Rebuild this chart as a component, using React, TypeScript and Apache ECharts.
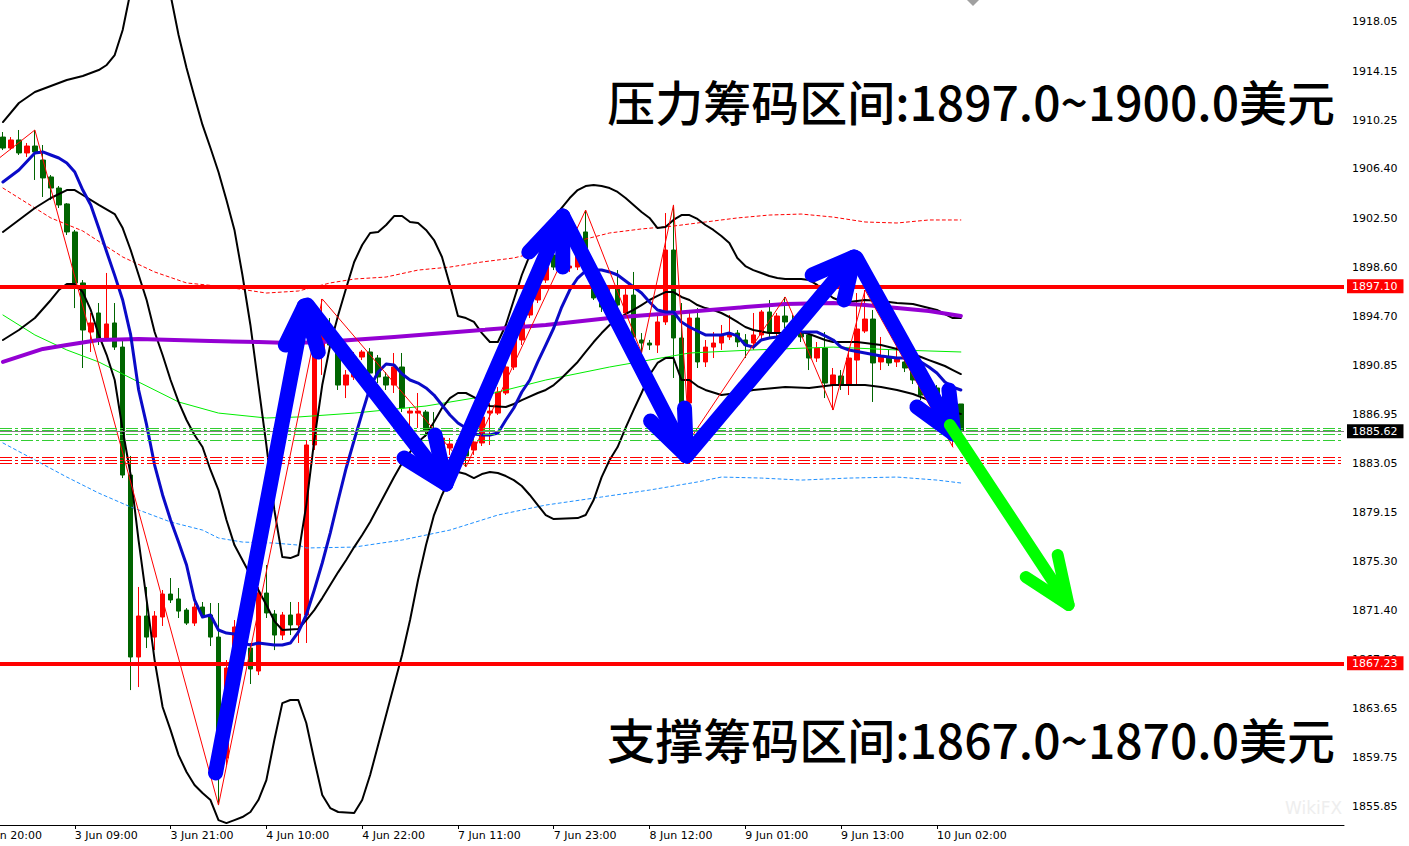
import React, { useEffect, useRef } from 'react';
import * as echarts from 'echarts';

// ---------- axes ----------
const LEAD = 3; // hidden bars before the first visible one (2 Jun 20:00 .. 22:00)
const TOTAL = 172; // bar slots across the plot (incl. chart shift)
const TICK_LABELS = ['2 Jun 20:00', '3 Jun 09:00', '3 Jun 21:00', '4 Jun 10:00', '4 Jun 22:00', '7 Jun 11:00', '7 Jun 23:00', '8 Jun 12:00', '9 Jun 01:00', '9 Jun 13:00', '10 Jun 02:00'];
const PRICE_TICKS = [1918.05, 1914.15, 1910.25, 1906.40, 1902.50, 1898.60, 1894.70, 1890.85, 1886.95, 1883.05, 1879.15, 1875.30, 1871.40, 1867.50, 1863.65, 1859.75, 1855.85];
const Y_MIN = 1854.42;
const Y_MAX = 1919.79;

// ---------- candles (H1) ----------
const OPEN = [1908.93, 1908.06, 1908.70, 1907.67, 1908.22, 1907.11, 1905.77, 1904.89, 1903.63, 1901.41, 1897.37, 1893.48, 1894.99, 1893.01, 1894.20, 1892.29, 1882.15, 1867.73, 1870.98, 1869.31, 1870.90, 1872.72, 1872.33, 1871.45, 1870.42, 1871.69, 1871.06, 1869.31, 1859.73, 1866.86, 1870.11, 1868.44, 1866.62, 1872.80, 1871.14, 1869.47, 1871.06, 1870.27, 1871.06, 1884.53, 1891.66, 1893.48, 1892.06, 1889.28, 1889.92, 1891.50, 1891.90, 1891.42, 1889.92, 1889.28, 1890.71, 1887.06, 1887.06, 1887.14, 1885.72, 1884.29, 1884.29, 1884.13, 1884.29, 1884.13, 1884.69, 1887.06, 1887.06, 1888.65, 1890.71, 1892.85, 1894.83, 1896.02, 1897.60, 1899.58, 1898.63, 1898.55, 1898.63, 1901.41, 1898.00, 1896.18, 1895.62, 1897.05, 1894.99, 1896.41, 1892.85, 1892.61, 1892.45, 1894.28, 1899.98, 1893.01, 1887.86, 1894.59, 1891.11, 1892.29, 1892.61, 1893.09, 1893.40, 1892.85, 1892.61, 1893.25, 1895.07, 1893.48, 1894.75, 1894.28, 1893.40, 1893.25, 1891.42, 1892.21, 1889.28, 1890.00, 1889.28, 1891.26, 1893.56, 1894.51, 1891.11, 1891.42, 1891.11, 1891.11, 1890.63, 1889.28, 1888.89, 1889.05, 1888.57, 1887.78, 1887.78];
const CLOSE = [1908.06, 1908.70, 1907.67, 1908.22, 1907.75, 1905.69, 1904.89, 1903.55, 1901.41, 1897.37, 1893.64, 1894.20, 1892.85, 1894.12, 1892.29, 1882.15, 1867.73, 1870.98, 1869.31, 1870.98, 1872.72, 1872.25, 1871.37, 1870.42, 1871.69, 1871.06, 1869.31, 1859.73, 1866.86, 1870.11, 1868.44, 1866.78, 1872.80, 1871.22, 1869.47, 1871.06, 1870.27, 1871.14, 1884.53, 1891.82, 1893.48, 1892.45, 1889.28, 1890.08, 1891.50, 1891.90, 1890.23, 1889.92, 1889.28, 1890.71, 1887.46, 1887.22, 1887.22, 1885.72, 1884.69, 1885.08, 1884.61, 1884.61, 1883.66, 1884.77, 1886.75, 1887.22, 1888.73, 1890.71, 1892.85, 1894.83, 1896.02, 1897.60, 1898.63, 1898.63, 1899.58, 1898.71, 1900.22, 1898.39, 1896.18, 1895.46, 1896.02, 1895.62, 1896.41, 1893.09, 1892.61, 1892.45, 1894.28, 1899.98, 1893.01, 1887.86, 1894.59, 1891.11, 1892.29, 1892.61, 1893.25, 1893.40, 1892.69, 1892.45, 1893.25, 1895.07, 1893.40, 1894.75, 1894.28, 1893.40, 1893.09, 1891.42, 1892.21, 1889.44, 1890.08, 1889.28, 1891.42, 1893.72, 1894.51, 1891.03, 1891.50, 1891.03, 1891.42, 1890.63, 1889.68, 1888.49, 1888.57, 1888.57, 1887.94, 1888.09, 1885.62];
const LOW = [1907.90, 1907.90, 1907.51, 1907.35, 1905.53, 1904.18, 1903.94, 1903.31, 1901.17, 1895.38, 1890.63, 1891.90, 1892.45, 1892.85, 1892.06, 1881.91, 1865.11, 1865.35, 1868.44, 1868.28, 1870.19, 1872.01, 1870.82, 1870.27, 1870.19, 1870.82, 1868.60, 1856.00, 1859.17, 1866.54, 1867.89, 1865.59, 1866.30, 1870.82, 1868.28, 1869.08, 1869.47, 1868.84, 1868.84, 1884.13, 1890.08, 1892.06, 1888.89, 1888.25, 1889.68, 1891.26, 1889.68, 1889.44, 1888.89, 1888.65, 1887.14, 1885.95, 1885.88, 1885.16, 1884.45, 1883.97, 1883.74, 1883.50, 1882.79, 1883.74, 1884.45, 1884.53, 1886.91, 1888.49, 1890.47, 1892.45, 1894.59, 1895.78, 1897.37, 1898.39, 1898.39, 1898.24, 1898.39, 1898.24, 1896.02, 1895.07, 1895.38, 1895.23, 1894.67, 1892.85, 1891.82, 1892.06, 1891.82, 1894.04, 1889.84, 1887.46, 1884.92, 1890.63, 1890.71, 1891.42, 1892.06, 1892.85, 1892.29, 1891.42, 1892.06, 1892.85, 1893.09, 1891.26, 1893.80, 1893.01, 1892.69, 1890.47, 1891.11, 1888.25, 1887.30, 1888.89, 1888.49, 1889.28, 1893.40, 1887.94, 1890.47, 1890.79, 1890.71, 1890.31, 1889.36, 1888.09, 1888.25, 1888.25, 1887.62, 1884.37, 1885.55];
const HIGH = [1909.33, 1908.93, 1909.49, 1908.46, 1909.49, 1908.30, 1905.92, 1905.05, 1903.70, 1901.57, 1897.60, 1894.99, 1895.78, 1898.16, 1895.78, 1892.85, 1883.66, 1873.28, 1873.28, 1871.37, 1873.04, 1873.99, 1873.20, 1871.61, 1872.01, 1872.09, 1872.01, 1872.01, 1867.49, 1870.66, 1871.06, 1868.84, 1873.28, 1875.02, 1871.45, 1871.30, 1872.09, 1872.09, 1884.92, 1892.45, 1896.10, 1894.59, 1892.45, 1890.47, 1891.90, 1892.06, 1892.21, 1891.66, 1890.31, 1891.82, 1891.82, 1887.54, 1888.65, 1887.30, 1887.14, 1885.56, 1885.08, 1884.92, 1884.45, 1885.08, 1886.91, 1887.86, 1889.12, 1891.50, 1893.25, 1895.23, 1896.41, 1898.00, 1899.74, 1900.14, 1899.98, 1899.43, 1901.33, 1903.15, 1898.55, 1896.81, 1897.21, 1898.39, 1897.21, 1898.24, 1893.40, 1892.85, 1894.83, 1902.91, 1903.55, 1895.78, 1895.23, 1895.38, 1892.85, 1893.48, 1894.04, 1894.83, 1893.64, 1893.32, 1894.99, 1895.23, 1896.02, 1894.99, 1896.26, 1894.83, 1894.20, 1893.48, 1892.69, 1893.48, 1890.63, 1890.47, 1892.21, 1896.57, 1896.81, 1895.23, 1893.09, 1892.06, 1892.29, 1891.82, 1891.11, 1889.68, 1889.20, 1889.28, 1888.89, 1888.49, 1887.78];

// ---------- indicators: [bar, price] ----------
const BB_UPPER = [[0, 1910.12], [2, 1911.63], [4, 1912.50], [6, 1912.98], [8, 1913.45], [10, 1913.77], [12, 1914.24], [13, 1914.64], [14, 1915.43], [15, 1917.41], [16, 1920.5], [18, 1923.5], [20, 1922.5], [21, 1920.18], [22, 1917.02], [23, 1914.40], [24, 1912.10], [25, 1909.89], [26, 1908.06], [27, 1906.16], [28, 1903.94], [29, 1901.57], [30, 1898.00], [31, 1894.04], [32, 1889.28], [33, 1884.53], [34, 1879.38], [35, 1875.65], [36, 1875.57], [37, 1875.81], [38, 1879.77], [39, 1884.92], [40, 1889.28], [41, 1892.45], [42, 1894.83], [43, 1896.97], [44, 1899.03], [45, 1900.38], [46, 1901.33], [47, 1901.41], [48, 1901.96], [49, 1902.67], [50, 1902.67], [51, 1902.20], [52, 1902.12], [53, 1901.57], [54, 1900.77], [55, 1899.43], [56, 1897.21], [57, 1894.75], [58, 1894.59], [59, 1894.28], [60, 1893.40], [61, 1892.69], [62, 1892.69], [63, 1894.04], [64, 1896.02], [65, 1898.00], [66, 1899.58], [67, 1900.77], [68, 1901.72], [69, 1902.52], [70, 1903.31], [71, 1904.10], [72, 1904.73], [73, 1905.05], [74, 1905.13], [75, 1905.05], [76, 1904.89], [77, 1904.58], [78, 1904.10], [79, 1903.55], [80, 1902.99], [81, 1902.52], [82, 1901.72], [83, 1901.80], [84, 1902.36], [85, 1902.75], [86, 1902.75], [87, 1902.44], [88, 1901.96], [89, 1901.57], [90, 1901.09], [91, 1900.54], [92, 1899.35], [93, 1898.71], [94, 1898.39], [95, 1898.16], [96, 1897.92], [97, 1897.76], [98, 1897.68], [100, 1897.68], [101, 1897.60], [102, 1897.21], [103, 1896.65], [104, 1896.18], [105, 1895.94], [106, 1895.86], [108, 1896.02], [110, 1895.94], [112, 1895.78], [114, 1895.70], [115, 1895.54], [116, 1895.38], [117, 1895.23], [118, 1894.91], [119, 1894.59], [120, 1894.59]];
const BB_MID = [[0, 1901.41], [2, 1902.36], [4, 1903.31], [6, 1904.10], [8, 1904.73], [9, 1904.73], [10, 1904.34], [12, 1903.55], [14, 1902.83], [15, 1901.72], [16, 1899.98], [17, 1898.00], [18, 1896.02], [19, 1893.48], [20, 1891.66], [21, 1889.68], [22, 1887.94], [23, 1886.51], [24, 1885.32], [25, 1884.37], [26, 1882.55], [27, 1880.96], [28, 1878.59], [29, 1876.60], [30, 1875.42], [31, 1874.23], [32, 1873.04], [33, 1871.85], [34, 1870.58], [35, 1869.87], [37, 1869.95], [38, 1870.66], [39, 1871.45], [40, 1872.40], [41, 1873.43], [42, 1874.46], [43, 1875.42], [44, 1876.44], [45, 1877.40], [46, 1878.43], [47, 1879.62], [48, 1880.80], [49, 1881.99], [50, 1883.10], [51, 1883.97], [52, 1884.77], [53, 1885.32], [54, 1886.35], [55, 1887.46], [56, 1888.25], [57, 1888.65], [58, 1888.65], [59, 1888.33], [60, 1887.94], [61, 1887.62], [63, 1887.54], [64, 1887.78], [65, 1888.09], [67, 1888.65], [68, 1888.89], [69, 1889.28], [70, 1889.84], [71, 1890.47], [72, 1891.11], [73, 1891.90], [74, 1892.69], [75, 1893.40], [76, 1894.04], [77, 1894.51], [78, 1894.91], [79, 1895.23], [80, 1895.62], [81, 1896.02], [82, 1896.34], [83, 1896.65], [84, 1896.65], [85, 1896.26], [86, 1896.02], [87, 1895.62], [88, 1895.38], [89, 1895.23], [90, 1894.99], [91, 1894.67], [92, 1894.28], [93, 1893.88], [94, 1893.64], [96, 1893.40], [98, 1893.40], [100, 1893.48], [101, 1893.32], [102, 1893.09], [103, 1892.85], [104, 1892.69], [107, 1892.69], [108, 1892.61], [110, 1892.45], [112, 1892.13], [113, 1891.98], [114, 1891.74], [115, 1891.50], [116, 1891.26], [117, 1891.03], [118, 1890.79], [119, 1890.47], [120, 1890.15]];
const BB_LOWER = [[0, 1892.85], [2, 1893.64], [4, 1894.59], [6, 1896.02], [7, 1896.81], [8, 1897.29], [9, 1897.29], [10, 1896.65], [11, 1895.23], [12, 1893.25], [13, 1891.66], [14, 1889.68], [15, 1885.72], [16, 1882.15], [17, 1876.94], [18, 1872.25], [19, 1867.49], [20, 1863.77], [21, 1861.94], [22, 1859.96], [23, 1858.62], [24, 1857.59], [25, 1856.95], [26, 1856.40], [27, 1854.81], [28, 1854.57], [29, 1854.81], [30, 1855.05], [31, 1855.45], [32, 1856.40], [33, 1857.98], [34, 1861.15], [35, 1864.08], [36, 1864.32], [37, 1864.32], [38, 1862.50], [39, 1859.57], [40, 1856.79], [41, 1855.76], [42, 1855.45], [44, 1855.37], [45, 1856.40], [46, 1858.38], [47, 1860.76], [48, 1863.13], [49, 1865.51], [50, 1867.89], [51, 1870.66], [52, 1873.83], [53, 1876.60], [54, 1878.98], [55, 1880.57], [56, 1881.91], [57, 1882.39], [58, 1882.23], [59, 1881.91], [60, 1882.23], [61, 1882.39], [62, 1882.31], [63, 1882.07], [64, 1881.75], [65, 1881.28], [66, 1880.57], [67, 1879.77], [68, 1878.98], [69, 1878.66], [72, 1878.74], [73, 1878.98], [74, 1880.17], [75, 1881.99], [76, 1883.34], [77, 1884.37], [78, 1885.88], [79, 1887.30], [80, 1888.65], [81, 1890.08], [82, 1891.03], [83, 1891.42], [84, 1891.42], [85, 1889.68], [86, 1889.68], [87, 1889.20], [88, 1888.89], [90, 1888.49], [92, 1888.65], [94, 1888.89], [98, 1889.12], [101, 1889.05], [103, 1889.20], [104, 1889.28], [108, 1889.28], [110, 1889.12], [112, 1888.89], [114, 1888.57], [116, 1888.09], [118, 1887.46], [119, 1887.14], [120, 1886.99]];
const MA_BLUE = [[0, 1905.37], [2, 1906.32], [4, 1907.67], [5, 1907.75], [6, 1907.51], [7, 1907.27], [8, 1906.87], [9, 1906.16], [10, 1904.73], [11, 1903.55], [12, 1901.72], [13, 1899.82], [14, 1897.97], [15, 1896.02], [16, 1893.25], [17, 1888.89], [18, 1886.12], [19, 1882.94], [20, 1880.57], [21, 1878.59], [22, 1876.84], [23, 1875.02], [24, 1872.25], [25, 1870.90], [26, 1871.06], [27, 1869.87], [28, 1869.63], [29, 1869.55], [30, 1868.84], [31, 1868.68], [32, 1868.84], [33, 1868.76], [34, 1868.68], [35, 1868.68], [36, 1868.84], [37, 1869.71], [38, 1871.06], [39, 1873.04], [40, 1875.18], [41, 1877.55], [42, 1880.17], [43, 1882.71], [44, 1884.92], [45, 1887.06], [46, 1889.12], [47, 1890.31], [48, 1890.95], [49, 1890.87], [50, 1890.15], [51, 1889.68], [52, 1889.44], [53, 1889.05], [54, 1888.49], [55, 1887.70], [56, 1886.91], [57, 1886.27], [58, 1885.88], [59, 1885.40], [60, 1885.32], [61, 1885.32], [62, 1885.48], [63, 1886.51], [64, 1887.46], [65, 1888.73], [66, 1889.68], [67, 1891.11], [68, 1892.45], [69, 1893.80], [70, 1895.46], [71, 1896.81], [72, 1897.76], [73, 1898.32], [74, 1898.39], [75, 1898.39], [76, 1898.24], [77, 1898.00], [78, 1897.52], [79, 1897.05], [80, 1896.57], [81, 1895.86], [82, 1895.23], [83, 1895.07], [84, 1895.07], [85, 1894.27], [86, 1893.88], [87, 1893.56], [88, 1893.25], [90, 1893.25], [91, 1893.40], [92, 1893.17], [93, 1892.45], [94, 1892.29], [95, 1892.85], [96, 1893.01], [97, 1893.09], [98, 1893.40], [99, 1893.48], [102, 1893.48], [103, 1893.17], [104, 1892.85], [105, 1892.29], [106, 1892.06], [108, 1891.82], [110, 1891.58], [112, 1891.42], [114, 1891.42], [115, 1891.11], [116, 1890.71], [117, 1890.23], [118, 1889.52], [119, 1889.12], [120, 1888.89]];
const MA_PURPLE = [[0, 1891.11], [5, 1892.14], [8, 1892.45], [12, 1892.85], [17, 1892.93], [26, 1892.77], [32, 1892.69], [36, 1892.61], [40, 1892.69], [49, 1893.09], [60, 1893.64], [68, 1894.04], [76, 1894.59], [84, 1894.99], [93, 1895.46], [98, 1895.70], [104, 1895.78], [108, 1895.62], [112, 1895.38], [116, 1895.15], [120, 1894.75]];
const MA_GREEN = [[0, 1894.83], [4, 1893.25], [8, 1892.06], [12, 1891.11], [17, 1889.52], [22, 1887.94], [27, 1887.06], [33, 1886.67], [37, 1886.75], [44, 1887.06], [53, 1887.62], [59, 1888.25], [68, 1889.68], [76, 1890.71], [86, 1891.82], [94, 1892.06], [104, 1892.29], [112, 1892.06], [120, 1891.90]];
const ENV_UPPER = [[0, 1904.89], [2, 1904.10], [6, 1902.52], [10, 1901.49], [15, 1899.43], [19, 1898.24], [23, 1897.37], [28, 1897.05], [33, 1896.57], [37, 1896.73], [41, 1897.37], [44, 1897.68], [48, 1897.84], [52, 1898.39], [56, 1898.63], [60, 1899.03], [64, 1899.35], [68, 1899.98], [72, 1900.69], [76, 1901.33], [80, 1901.65], [84, 1901.88], [88, 1902.20], [92, 1902.52], [96, 1902.75], [100, 1902.83], [104, 1902.59], [108, 1902.20], [112, 1902.12], [116, 1902.36], [120, 1902.36]];
const ENV_LOWER = [[0, 1884.69], [4, 1883.34], [8, 1881.99], [12, 1880.72], [16, 1879.62], [21, 1878.43], [25, 1877.79], [27, 1877.16], [30, 1876.84], [34, 1876.76], [37, 1876.60], [38, 1876.37], [44, 1876.44], [50, 1877.00], [56, 1877.79], [62, 1878.98], [68, 1879.77], [75, 1880.41], [81, 1880.96], [87, 1881.60], [90, 1881.99], [95, 1881.91], [100, 1881.75], [106, 1881.91], [112, 1881.99], [117, 1881.75], [120, 1881.52]];
const ZIGZAG = [[-3, 1906.00], [4, 1909.49], [27, 1856.00], [40, 1896.10], [58, 1882.79], [73, 1903.15], [80, 1891.82], [84, 1903.55], [86, 1884.92], [98, 1896.26], [104, 1887.30], [108, 1896.81], [119, 1884.37]];

// ---------- levels ----------
const RESISTANCE = 1897.10;
const SUPPORT = 1867.23;
const LAST_PRICE = 1885.62;
const GREEN_ORDERS = [1885.84, 1885.68, 1885.36, 1884.92];
const RED_ORDERS = [1883.52, 1883.31, 1883.08];

// ---------- hand-drawn arrows: [bar, price] ----------
const BLUE_ARROWS = [
  { tail: [26.63, 1858.54], tip: [37.75, 1895.54], arms: [[35.38, 1892.45], [39.5, 1891.90]] },
  { tail: [38.13, 1895.62], tip: [55.5, 1881.44], arms: [[50.25, 1883.50], [54.13, 1885.32]] },
  { tail: [55.5, 1881.44], tip: [70.13, 1902.67], arms: [[65.88, 1899.82], [70.13, 1898.63]] },
  { tail: [70.13, 1902.67], tip: [85.63, 1883.66], arms: [[81.13, 1886.43], [85.38, 1887.46]] },
  { tail: [85.63, 1883.66], tip: [106.63, 1899.43], arms: [[101.38, 1898.00], [105.38, 1896.02]] },
  { tail: [106.88, 1899.35], tip: [119.13, 1885.40], arms: [[114.5, 1887.54], [118.5, 1888.89]] },
];
const GREEN_ARROW = { tail: [118.63, 1886.12], tip: [133.5, 1871.85], arms: [[128.13, 1874.07], [132.13, 1875.81]] };

const TEXT_TOP = '压力筹码区间:1897.0~1900.0美元';
const TEXT_BOTTOM = '支撑筹码区间:1867.0~1870.0美元';
const WATERMARK = 'WikiFX';

const FONT = 'DejaVu Sans';

function buildOption() {
  const categories = Array.from({ length: TOTAL }, (_, j) =>
    j % 12 === 0 && j / 12 < TICK_LABELS.length ? TICK_LABELS[j / 12] : ''
  );
  const showTick = (i: number) => i % 12 === 0 && i / 12 < TICK_LABELS.length;

  const candles = OPEN.map((o, i) => [i + LEAD, o, CLOSE[i], LOW[i], HIGH[i]]);
  const shift = (pts: number[][]) => pts.map(([k, p]) => [k + LEAD, p]);

  const line = (pts: number[][], color: string, width: number, type: any = 'solid', z = 3) => ({
    type: 'line',
    xAxisIndex: 1,
    yAxisIndex: 0,
    data: shift(pts),
    symbol: 'none',
    showSymbol: false,
    silent: true,
    z,
    lineStyle: { color, width, type, cap: 'round', join: 'round' },
  });

  const arrowSeries = (a: any, color: string, width: number) => [
    line([a.tail, a.tip], color, width, 'solid', 6),
    line([a.arms[0], a.tip, a.arms[1]], color, width, 'solid', 6),
  ];

  const priceLabel = (text: string, bg: string) => ({
    show: true,
    position: 'end',
    formatter: text,
    color: '#ffffff',
    backgroundColor: bg,
    padding: [2, 6, 1, 5],
    fontSize: 11,
    fontFamily: FONT,
    distance: 3,
  });

  const dashDot = [12, 3, 3, 3];
  const markData: any[] = [
    ...GREEN_ORDERS.map((v) => ({ yAxis: v, lineStyle: { color: '#32CD32', width: 1, type: dashDot }, label: { show: false } })),
    ...RED_ORDERS.map((v) => ({ yAxis: v, lineStyle: { color: '#FF0000', width: 1, type: dashDot }, label: { show: false } })),
    { yAxis: LAST_PRICE, lineStyle: { color: '#808080', width: 1, type: 'solid' }, label: priceLabel(LAST_PRICE.toFixed(2), '#000000') },
    { yAxis: RESISTANCE, lineStyle: { color: '#FF0000', width: 4, type: 'solid' }, label: priceLabel(RESISTANCE.toFixed(2), '#FF0000') },
    { yAxis: SUPPORT, lineStyle: { color: '#FF0000', width: 4, type: 'solid' }, label: priceLabel(SUPPORT.toFixed(2), '#FF0000') },
  ];

  const series: any[] = [
    {
      type: 'candlestick',
      xAxisIndex: 0,
      yAxisIndex: 0,
      data: candles,
      encode: { x: 0, y: [1, 2, 3, 4] },
      barWidth: 5,
      silent: true,
      z: 2,
      itemStyle: { color: '#FF0000', color0: '#006400', borderColor: '#FF0000', borderColor0: '#006400', borderWidth: 1 },
    },
    line(ENV_UPPER, '#FF0000', 1, [3, 3]),
    line(ENV_LOWER, '#1E90FF', 1, [3, 3]),
    line(MA_GREEN, '#00EE00', 1),
    line(BB_UPPER, '#000000', 2),
    line(BB_MID, '#000000', 2),
    line(BB_LOWER, '#000000', 2),
    line(MA_PURPLE, '#9400D3', 4),
    line(MA_BLUE, '#0A0AC8', 3),
    line(ZIGZAG, '#FF0000', 1),
    {
      type: 'line',
      xAxisIndex: 1,
      yAxisIndex: 0,
      data: [[LEAD, RESISTANCE]],
      symbol: 'none',
      showSymbol: false,
      silent: true,
      z: 5,
      lineStyle: { opacity: 0 },
      markLine: { symbol: ['none', 'none'], silent: true, animation: false, data: markData },
    },
    ...BLUE_ARROWS.flatMap((a) => arrowSeries(a, '#0000FF', 15)),
    ...arrowSeries(GREEN_ARROW, '#00FF00', 12),
  ];

  return {
    animation: false,
    backgroundColor: '#ffffff',
    grid: { left: 0, right: 65, top: 0, bottom: 21, containLabel: false },
    xAxis: [
      {
        type: 'category',
        data: categories,
        boundaryGap: false,
        axisLine: { show: true, lineStyle: { color: '#000000', width: 1 } },
        axisTick: { show: true, interval: showTick, length: 4, lineStyle: { color: '#000000' } },
        axisLabel: { show: true, interval: showTick, align: 'left', margin: 5, color: '#000000', fontSize: 11, fontFamily: FONT },
        splitLine: { show: false },
      },
      { type: 'value', min: 0, max: TOTAL - 1, show: false },
    ],
    yAxis: [
      {
        type: 'value',
        position: 'right',
        min: Y_MIN,
        max: Y_MAX,
        axisLine: { show: true, lineStyle: { color: '#000000', width: 1 } },
        axisTick: { show: true, length: 4, customValues: PRICE_TICKS, lineStyle: { color: '#000000' } },
        axisLabel: {
          show: true,
          customValues: PRICE_TICKS,
          formatter: (v: number) => v.toFixed(2),
          margin: 8,
          color: '#000000',
          fontSize: 11,
          fontFamily: FONT,
        },
        splitLine: { show: false },
      },
    ],
    graphic: [
      {
        type: 'polygon',
        z: 10,
        shape: { points: [[991, 0], [1003, 0], [997, 6]] },
        style: { fill: '#a0a0a0' },
      },
      {
        type: 'text',
        z: 10,
        x: 1359,
        y: 100,
        style: {
          text: TEXT_TOP,
          font: "500 48px 'Noto Sans CJK SC'",
          fill: '#000000',
          textAlign: 'right',
          textVerticalAlign: 'middle',
        },
      },
      {
        type: 'text',
        z: 10,
        x: 1359,
        y: 738,
        style: {
          text: TEXT_BOTTOM,
          font: "500 48px 'Noto Sans CJK SC'",
          fill: '#000000',
          textAlign: 'right',
          textVerticalAlign: 'middle',
        },
      },
      {
        type: 'text',
        z: 1,
        x: 1309,
        y: 808,
        style: { text: WATERMARK, font: "17px 'DejaVu Sans'", fill: '#eeeeee', textVerticalAlign: 'middle' },
      },
    ],
    series,
  };
}

export default function App() {
  const ref = useRef<HTMLDivElement>(null);
  useEffect(() => {
    if (!ref.current) return;
    const chart = echarts.init(ref.current, null, { renderer: 'svg' });
    chart.setOption(buildOption() as any);
    return () => chart.dispose();
  }, []);
  return (
    <div
      ref={ref}
      style={{ position: 'fixed', left: -24, top: 0, width: 1433, height: 846, background: '#ffffff' }}
    />
  );
}
